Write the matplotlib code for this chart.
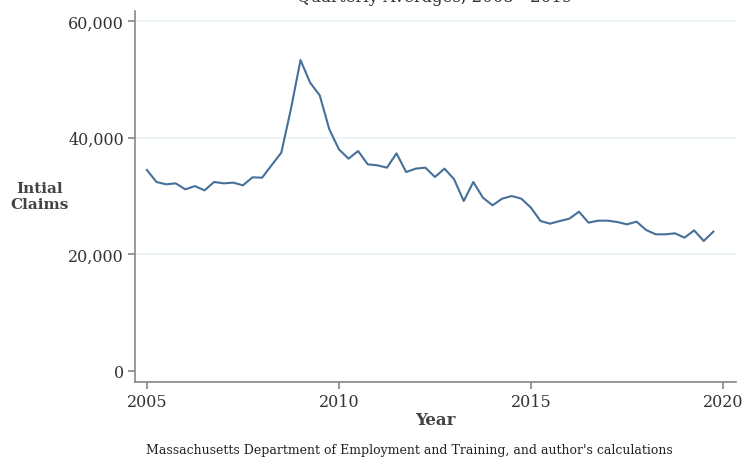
import matplotlib
matplotlib.use("Agg")
import matplotlib.pyplot as plt
import numpy as np

years = 2005 + np.arange(60) / 4.0
claims = [34460, 32400, 32000, 32170, 31140, 31700, 30970, 32400, 32170, 32290,
          31830, 33200, 33140, 35310, 37430, 44900, 53300, 49430, 47260, 41430,
          38000, 36400, 37710, 35430, 35260, 34860, 37310, 34110, 34690, 34860,
          33260, 34690, 32860, 29140, 32400, 29710, 28400, 29540, 30000, 29540,
          28000, 25710, 25260, 25710, 26110, 27310, 25430, 25770, 25770, 25540,
          25140, 25600, 24170, 23430, 23430, 23600, 22860, 24110, 22290, 23890]
xticks = [2005, 2010, 2015, 2020]
yticks = [0, 20000, 40000, 60000]
ytick_labels = ["0", "20,000", "40,000", "60,000"]

plt.rcParams['font.family'] = ['DejaVu Serif']

W, H = 755, 460
fig = plt.figure(figsize=(W / 100, H / 100), dpi=100)
ax = fig.add_axes([135 / W, 1 - 383 / H, (736 - 135) / W, (383 - 12) / H])

ax.plot(years, claims, color='#46709a', lw=1.5)
ax.set_xlim(2004.69, 2020.34)
ax.set_ylim(-1886, 61714)
ax.set_xticks(xticks)
ax.set_xticklabels([str(t) for t in xticks], fontsize=11.5, color='#333333')
ax.set_yticks(yticks)
ax.set_yticklabels(ytick_labels, fontsize=11.5, color='#333333')
for v in yticks[1:]:
    ax.axhline(v, color='#eaf2f3', lw=1.2, zorder=0)
for s in ['top', 'right']:
    ax.spines[s].set_visible(False)
for s in ['left', 'bottom']:
    ax.spines[s].set_color('#888888')
    ax.spines[s].set_linewidth(1.2)
ax.tick_params(direction='out', length=5, color='#888888', width=1.2, pad=3)

ax.set_xlabel('Year', fontsize=12, fontweight='bold', color='#444444', labelpad=1)
fig.text(40 / W, 1 - 197 / H, 'Intial\nClaims', ha='center', va='center',
         fontsize=11, fontweight='bold', color='#444444', linespacing=1.25)
fig.text(435 / W, 1 - 2 / H, 'Quarterly Averages, 2005 - 2019', ha='center',
         va='baseline', fontsize=12, color='#333333')
fig.text(409 / W, 1 - 451 / H,
         "Massachusetts Department of Employment and Training, and author's calculations",
         ha='center', va='center', fontsize=9, color='#222222')

fig.savefig('out.png', dpi=100)
